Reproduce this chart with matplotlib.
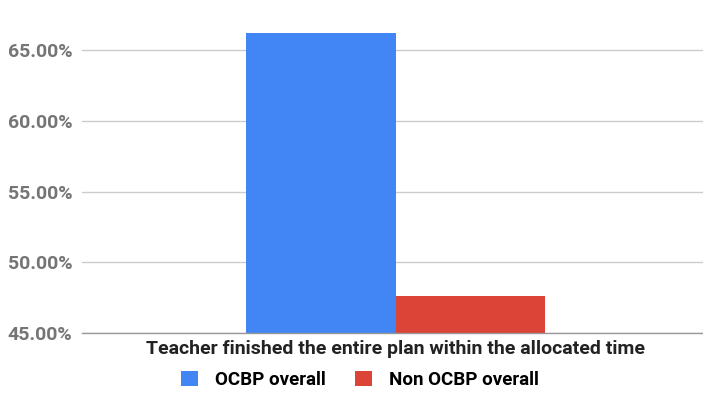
import matplotlib.pyplot as plt
from matplotlib.ticker import FuncFormatter

# Share of lessons where the teacher finished the plan in time
category = ['Teacher finished the entire plan within the allocated time']
series_names = ['OCBP overall', 'Non OCBP overall']
series_values = [66.22, 47.64]
series_colors = ['#4285F4', '#DB4437']
y_ticks = [45, 50, 55, 60, 65]

W, H = 703, 393
fig = plt.figure(figsize=(W / 100, H / 100), dpi=100)
ax = fig.add_axes([82 / W, (H - 333) / H, (W - 82) / W, 313 / H])

bar_w = 0.244
offsets = [-bar_w / 2, bar_w / 2]
for name, val, col, off in zip(series_names, series_values, series_colors, offsets):
    ax.bar(off, val - 45, bottom=45, width=bar_w * 0.995, color=col,
           label=name, zorder=3)

ax.set_xlim(-0.511, 0.5)
ax.set_ylim(45, 67.14)
ax.set_yticks(y_ticks)
ax.yaxis.set_major_formatter(FuncFormatter(lambda v, _: f'{v:.2f}%'))
ax.grid(axis='y', color='#cccccc', linewidth=1, zorder=0)
ax.tick_params(axis='y', length=0, pad=7, labelsize=14, labelcolor='#757575')
for lbl in ax.get_yticklabels():
    lbl.set_fontfamily('Roboto')
    lbl.set_fontweight('bold')

ax.set_xticks([0])
ax.set_xticklabels(category, fontfamily='Roboto', fontweight='bold',
                   fontsize=14, color='#222222')
ax.tick_params(axis='x', length=0, pad=5)

for side in ['top', 'right', 'left']:
    ax.spines[side].set_visible(False)
ax.spines['bottom'].set_color('#999999')
ax.spines['bottom'].set_linewidth(1)
ax.spines['bottom'].set_zorder(4)

fig.legend(loc='center', bbox_to_anchor=(360 / W, (H - 380) / H), ncol=2,
           frameon=False, handlelength=0.9, handleheight=0.9,
           handletextpad=0.9, columnspacing=1.6,
           prop={'family': 'Roboto', 'weight': 'bold', 'size': 13.5})

fig.savefig('out.png', dpi=100)
